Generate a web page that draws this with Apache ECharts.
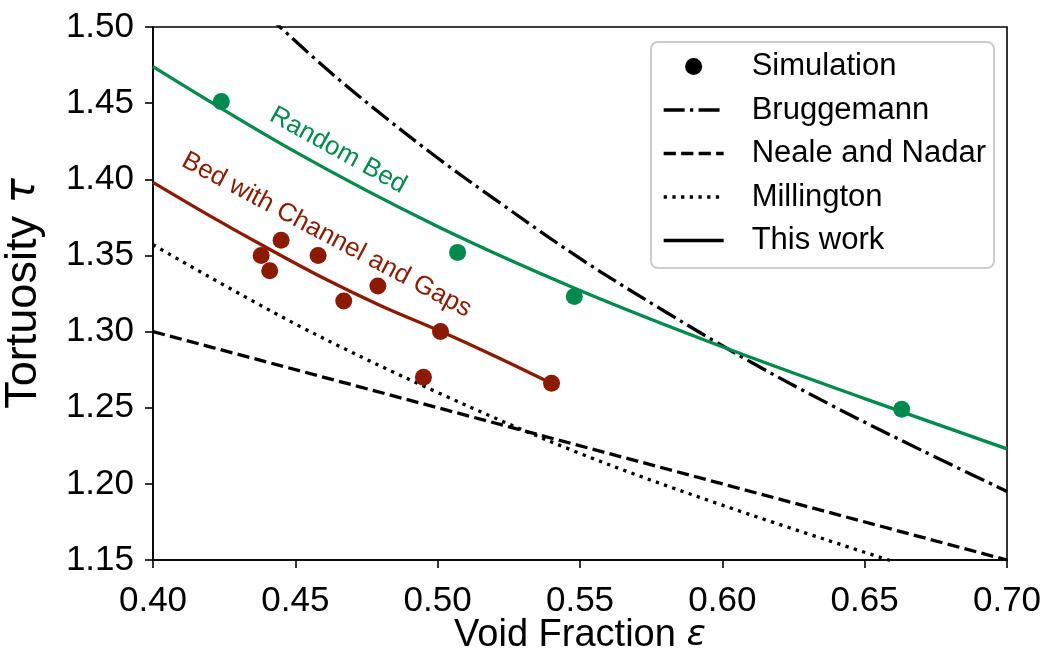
<!DOCTYPE html>
<html>
<head>
<meta charset="utf-8">
<title>Tortuosity vs void fraction</title>
<script src="https://cdn.jsdelivr.net/npm/echarts@6/dist/echarts.min.js"></script>
<style>
  html, body { margin: 0; padding: 0; background: #ffffff; }
  #chart { width: 1048px; height: 654px; }
</style>
</head>
<body>
<div id="chart"></div>
<script>
// Axis ranges and ticks
const xTicks = [0.40, 0.45, 0.50, 0.55, 0.60, 0.65, 0.70];
const yTicks = [1.15, 1.20, 1.25, 1.30, 1.35, 1.40, 1.45, 1.50];

// Simulation results [void fraction, tortuosity]
const simRandomBed = [[0.424, 1.451], [0.507, 1.352], [0.548, 1.323], [0.663, 1.249]];
const simChannelGaps = [
  [0.438, 1.350], [0.441, 1.340], [0.445, 1.360], [0.458, 1.350], [0.467, 1.320],
  [0.479, 1.330], [0.495, 1.270], [0.501, 1.300], [0.540, 1.266]
];

// Correlation curves [void fraction, tortuosity]
const bruggemann = [
  [0.44, 1.508], [0.46, 1.474], [0.48, 1.443], [0.50, 1.414], [0.52, 1.387],
  [0.55, 1.348], [0.58, 1.313], [0.61, 1.280], [0.64, 1.250], [0.67, 1.222], [0.70, 1.195]
];
const nealeNadar = [[0.40, 1.300], [0.70, 1.150]];
const millington = [
  [0.40, 1.357], [0.45, 1.305], [0.50, 1.260], [0.55, 1.220], [0.60, 1.186], [0.66, 1.149]
];

// Fitted curves of this work
const fitRandomBed = [
  [0.40, 1.474], [0.45, 1.418], [0.50, 1.369], [0.55, 1.327], [0.60, 1.290], [0.65, 1.256], [0.70, 1.223]
];
const fitChannelGaps = [
  [0.40, 1.398], [0.42, 1.376], [0.44, 1.355], [0.46, 1.335], [0.48, 1.317], [0.50, 1.301], [0.52, 1.284], [0.54, 1.266]
];

// Curve annotations [void fraction, tortuosity, angle]
const labelRandomBed = { text: 'Random Bed', at: [0.465, 1.419], angle: -29 };
const labelChannelGaps = { text: 'Bed with Channel and Gaps', at: [0.461, 1.3634], angle: -28 };

const GREEN = '#008a4e';
const RED = '#8b1a00';
const FONT = '"Liberation Sans", Arial, Helvetica, sans-serif';
const LW = 3.3;

const chart = echarts.init(document.getElementById('chart'), null, { renderer: 'canvas' });

// legend rows for the line styles: line sample only, no centre symbol
const lineEntry = name => ({ name, itemStyle: { opacity: 0 } });

const option = {
  animation: false,
  backgroundColor: '#ffffff',
  textStyle: { fontFamily: FONT },
  grid: {
    left: 153, right: 41, top: 27, bottom: 94,
    containLabel: false,
    outerBoundsMode: 'none',
    show: true, borderColor: '#000', borderWidth: 1.6, backgroundColor: 'transparent'
  },
  legend: {
    orient: 'vertical',
    left: 651, top: 42,
    padding: [9, 8, 12, 11],
    itemGap: 12.5,
    itemWidth: 60,
    itemHeight: 17,
    backgroundColor: '#ffffff',
    borderColor: '#cccccc',
    borderWidth: 2,
    borderRadius: 7,
    selectedMode: false,
    lineStyle: { width: LW },
    textStyle: { fontFamily: FONT, fontSize: 31, color: '#000', padding: [0, 0, 0, 23] },
    data: [
      { name: 'Simulation', icon: 'circle' },
      lineEntry('Bruggemann'),
      lineEntry('Neale and Nadar'),
      lineEntry('Millington'),
      lineEntry('This work')
    ]
  },
  xAxis: {
    type: 'value',
    min: xTicks[0], max: xTicks[xTicks.length - 1], interval: 0.05,
    name: 'Void Fraction {i|ε}',
    nameLocation: 'middle',
    nameGap: 57,
    nameMoveOverlap: false,
    nameTextStyle: {
      fontFamily: FONT, fontSize: 38, color: '#000',
      rich: { i: { fontFamily: '"DejaVu Sans", sans-serif', fontStyle: 'italic', fontSize: 36, color: '#000' } }
    },
    axisLine: { onZero: false, lineStyle: { color: '#000', width: 1.6 } },
    axisTick: { inside: false, length: 8, lineStyle: { color: '#000', width: 1.6 } },
    axisLabel: {
      margin: 24, fontFamily: FONT, fontSize: 35, color: '#000',
      formatter: v => v.toFixed(2)
    },
    splitLine: { show: false }
  },
  yAxis: {
    type: 'value',
    min: yTicks[0], max: yTicks[yTicks.length - 1], interval: 0.05,
    name: 'Tortuosity {i|τ}',
    nameLocation: 'middle',
    nameGap: 107,
    nameMoveOverlap: false,
    nameTextStyle: {
      fontFamily: FONT, fontSize: 45, color: '#000',
      rich: { i: { fontFamily: '"DejaVu Sans", sans-serif', fontStyle: 'italic', fontSize: 42, color: '#000' } }
    },
    axisLine: { onZero: false, lineStyle: { color: '#000', width: 1.6 } },
    axisTick: { inside: false, length: 8, lineStyle: { color: '#000', width: 1.6 } },
    axisLabel: {
      margin: 19, fontFamily: FONT, fontSize: 35, color: '#000',
      formatter: v => v.toFixed(2)
    },
    splitLine: { show: false }
  },
  series: [
    {
      name: 'Bruggemann', type: 'line', data: bruggemann, smooth: 0.35,
      symbol: 'none', color: '#000', z: 2,
      lineStyle: { color: '#000', width: LW, type: [21, 5.3, 3.3, 5.3], cap: 'butt' }
    },
    {
      name: 'Neale and Nadar', type: 'line', data: nealeNadar,
      symbol: 'none', color: '#000', z: 2,
      lineStyle: { color: '#000', width: LW, type: [12.2, 5.3], cap: 'butt' }
    },
    {
      name: 'Millington', type: 'line', data: millington, smooth: 0.35,
      symbol: 'none', color: '#000', z: 2,
      lineStyle: { color: '#000', width: LW, type: [3.3, 5.4], cap: 'butt' }
    },
    {
      name: 'Random Bed fit', type: 'line', data: fitRandomBed, smooth: 0.35,
      symbol: 'none', color: GREEN, z: 3,
      lineStyle: { color: GREEN, width: LW }
    },
    {
      name: 'Channel and Gaps fit', type: 'line', data: fitChannelGaps, smooth: 0.35,
      symbol: 'none', color: RED, z: 3,
      lineStyle: { color: RED, width: LW }
    },
    {
      name: 'Random Bed simulation', type: 'scatter', data: simRandomBed,
      symbol: 'circle', symbolSize: 17, z: 4,
      itemStyle: { color: GREEN, opacity: 1 }
    },
    {
      name: 'Channel and Gaps simulation', type: 'scatter', data: simChannelGaps,
      symbol: 'circle', symbolSize: 17, z: 4,
      itemStyle: { color: RED, opacity: 1 }
    },
    // legend entries in black
    {
      name: 'Simulation', type: 'scatter', data: [],
      symbol: 'circle', itemStyle: { color: '#000', opacity: 1 }
    },
    {
      name: 'This work', type: 'line', data: [],
      symbol: 'none', color: '#000',
      lineStyle: { color: '#000', width: LW }
    },
    // curve annotations
    {
      name: 'annotations', type: 'scatter', silent: true, z: 5,
      symbolSize: 0,
      itemStyle: { opacity: 1 },
      data: [labelRandomBed, labelChannelGaps].map((a, i) => ({
        value: a.at,
        label: {
          show: true, position: 'inside', formatter: a.text, rotate: a.angle,
          align: 'center', verticalAlign: 'middle', opacity: 1,
          fontFamily: FONT, fontSize: 26, color: i === 0 ? GREEN : RED
        }
      }))
    }
  ]
};

chart.setOption(option);
</script>
</body>
</html>
